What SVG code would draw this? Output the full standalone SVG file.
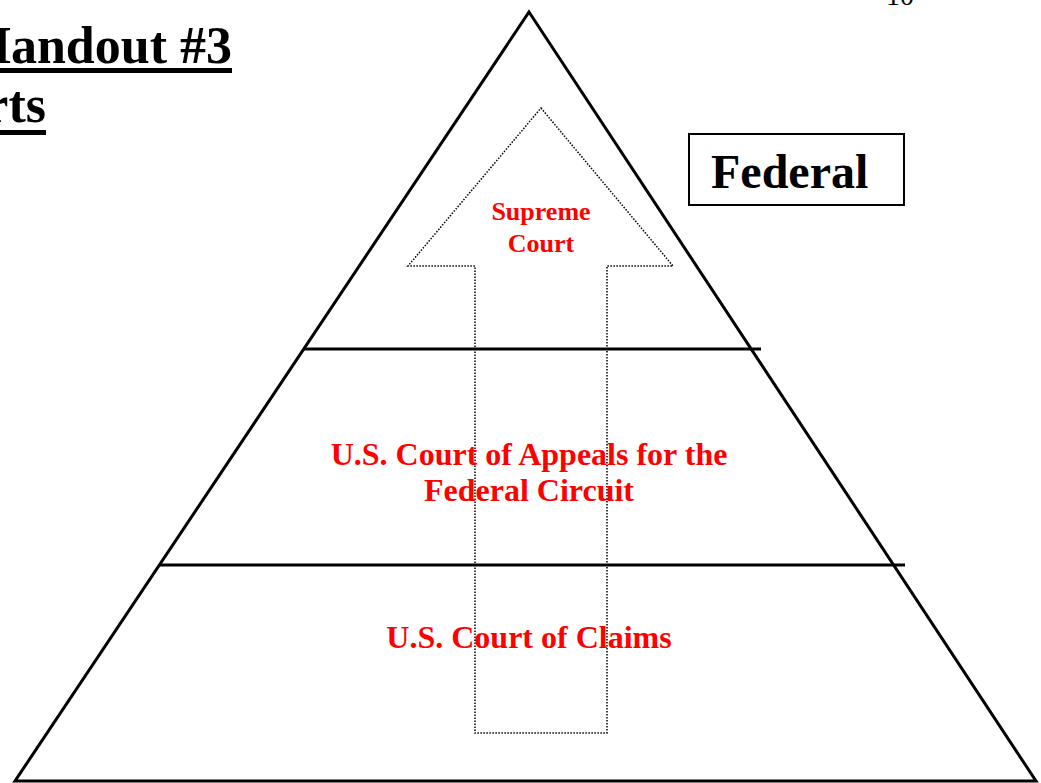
<svg xmlns="http://www.w3.org/2000/svg" width="1041" height="783" viewBox="0 0 1041 783">
<style>
.blk{font-family:"Liberation Serif","Times New Roman",serif;font-weight:bold;fill:#000}
.red{font-family:"Liberation Serif","Times New Roman",serif;font-weight:bold;fill:#ff0000;text-anchor:middle}
.ln{stroke:#000;stroke-width:3;fill:none}
</style>
<rect width="1041" height="783" fill="#fff"/>
<g id="title">
<text class="blk" x="232" y="63" font-size="52" text-anchor="end">Handout #3</text>
<rect x="-2" y="68" width="234" height="5" fill="#000"/>
<text class="blk" x="46" y="122" font-size="52" text-anchor="end">rts</text>
<rect x="-2" y="130" width="48" height="5" fill="#000"/>
</g>
<g id="pagenum">
<text x="900" y="5" font-family="Liberation Serif, serif" font-size="28" text-anchor="middle">10</text>
</g>
<g id="pyramid">
<polygon class="ln" points="529,12 1036,781 15,781"/>
<line class="ln" x1="304" y1="349" x2="761" y2="349"/>
<line class="ln" x1="160" y1="565" x2="905" y2="565"/>
</g>
<g id="connectors">
<polygon points="541,108 673,266 607,266 607,733 475,733 475,266 408,266" fill="none" stroke="#000" stroke-width="1.5" stroke-dasharray="1.5 1.5"/>
</g>
<g id="federal-box">
<rect x="689" y="134" width="215" height="71" fill="#fff" stroke="#000" stroke-width="2"/>
<text class="blk" x="711" y="188" font-size="48">Federal</text>
</g>
<g id="supreme">
<text class="red" x="541" y="220" font-size="26">Supreme</text>
<text class="red" x="541" y="252" font-size="26">Court</text>
</g>
<g id="appeals">
<text class="red" x="529" y="465" font-size="32">U.S. Court of Appeals for the</text>
<text class="red" x="529" y="501" font-size="32">Federal Circuit</text>
</g>
<g id="claims">
<text class="red" x="529" y="648" font-size="32">U.S. Court of Claims</text>
</g>
</svg>
